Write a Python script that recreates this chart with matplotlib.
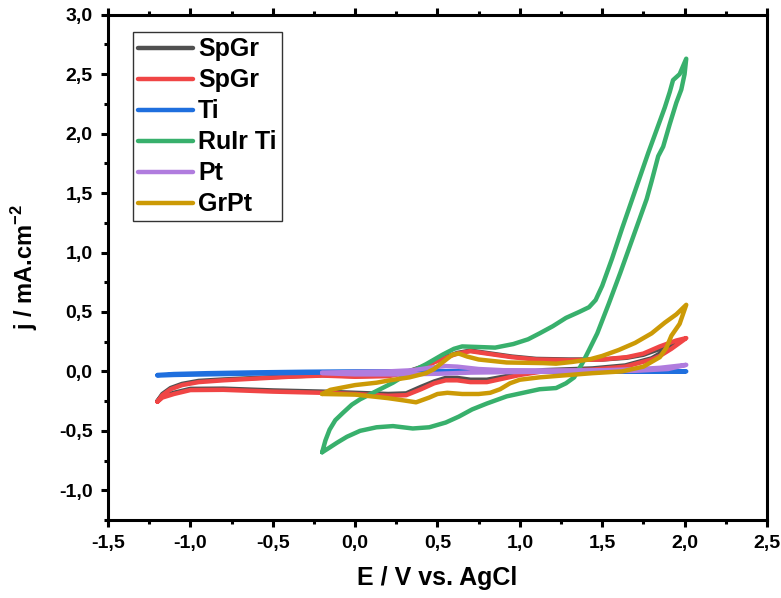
import matplotlib
matplotlib.use("Agg")
import matplotlib.pyplot as plt
from matplotlib.ticker import MultipleLocator, FuncFormatter

plt.rcParams['font.family'] = ['Liberation Sans', 'DejaVu Sans']
plt.rcParams['font.weight'] = 'bold'
plt.rcParams['mathtext.fontset'] = 'custom'
plt.rcParams['mathtext.bf'] = 'Liberation Sans:bold'
plt.rcParams['mathtext.rm'] = 'Liberation Sans:bold'

# Cyclic voltammograms: potential (V vs. AgCl) and current density (mA/cm2)
spgr_red_E = [-1.20, -1.17, -1.12, -1.05, -0.95, -0.80, -0.60, -0.40, -0.20, 0.00, 0.20, 0.30,
              0.42, 0.52, 0.62, 0.70, 0.80, 0.95, 1.10, 1.30, 1.50, 1.65, 1.75, 1.85, 1.95, 2.01,
              1.97, 1.92, 1.85, 1.80, 1.64, 1.44, 1.14, 1.00, 0.90, 0.80, 0.70, 0.62, 0.55, 0.48,
              0.40, 0.31, 0.20, 0.00, -0.20, -0.50, -0.80, -1.00, -1.10, -1.17, -1.20]
spgr_red_j = [-0.255, -0.20, -0.15, -0.115, -0.09, -0.075, -0.06, -0.045, -0.035, -0.045, -0.04, -0.015,
              0.04, 0.10, 0.15, 0.17, 0.15, 0.12, 0.10, 0.095, 0.10, 0.12, 0.15, 0.21, 0.26, 0.28,
              0.24, 0.19, 0.13, 0.10, 0.04, 0.015, 0.00, -0.03, -0.06, -0.09, -0.09, -0.075, -0.075, -0.10,
              -0.15, -0.20, -0.205, -0.19, -0.18, -0.17, -0.155, -0.157, -0.19, -0.22, -0.255]

spgr_black_E = [-1.20, -1.17, -1.12, -1.05, -0.95, -0.80, -0.60, -0.40, -0.20, 0.00, 0.20, 0.30,
                0.42, 0.52, 0.62, 0.70, 0.80, 0.95, 1.10, 1.30, 1.50, 1.65, 1.75, 1.85, 1.95,
                1.90, 1.85, 1.80, 1.64, 1.44, 1.14, 1.00, 0.90, 0.80, 0.70, 0.62, 0.55, 0.48,
                0.40, 0.31, 0.20, 0.00, -0.20, -0.50, -0.80, -1.00, -1.10, -1.17, -1.20]
spgr_black_j = [-0.25, -0.19, -0.14, -0.105, -0.08, -0.068, -0.055, -0.042, -0.032, -0.04, -0.035, -0.01,
                0.045, 0.105, 0.155, 0.175, 0.155, 0.125, 0.105, 0.10, 0.10, 0.115, 0.14, 0.19, 0.235,
                0.20, 0.15, 0.11, 0.05, 0.025, 0.01, -0.015, -0.045, -0.07, -0.07, -0.055, -0.055, -0.085,
                -0.13, -0.185, -0.19, -0.18, -0.17, -0.16, -0.145, -0.147, -0.18, -0.21, -0.25]

ti_E = [-1.20, -1.10, -0.90, -0.60, -0.30, 0.00, 0.50, 1.00, 1.50, 2.01,
        1.50, 1.00, 0.50, 0.00, -0.30, -0.60, -0.90, -1.10, -1.20]
ti_j = [-0.035, -0.03, -0.025, -0.018, -0.012, -0.008, -0.004, -0.002, 0.0, 0.0,
        0.002, 0.003, 0.002, 0.0, -0.003, -0.008, -0.015, -0.022, -0.03]

ruir_E = [-0.20, -0.18, -0.155, -0.12, -0.075, -0.02, 0.03, 0.13, 0.23, 0.33, 0.43, 0.53, 0.60,
          0.65, 0.75, 0.85, 0.96, 1.05, 1.12, 1.20, 1.28, 1.36, 1.42, 1.46, 1.50, 1.56, 1.62,
          1.67, 1.72, 1.78, 1.83, 1.88, 1.91, 1.93, 1.97, 2.01,
          2.00, 1.98, 1.95, 1.91, 1.87, 1.84, 1.80, 1.77, 1.69, 1.61, 1.54, 1.47, 1.42, 1.38,
          1.33, 1.28, 1.22, 1.12, 1.02, 0.92, 0.80, 0.71, 0.63, 0.55, 0.45, 0.35, 0.23, 0.13,
          0.03, -0.05, -0.11, -0.16, -0.20]
ruir_j = [-0.68, -0.58, -0.49, -0.41, -0.35, -0.28, -0.235, -0.165, -0.095, -0.01, 0.06, 0.14, 0.19,
          0.21, 0.205, 0.20, 0.23, 0.27, 0.32, 0.38, 0.45, 0.50, 0.54, 0.60, 0.72, 0.95, 1.20,
          1.40, 1.60, 1.84, 2.03, 2.22, 2.35, 2.45, 2.50, 2.63,
          2.50, 2.37, 2.26, 2.08, 1.89, 1.81, 1.60, 1.45, 1.14, 0.83, 0.57, 0.32, 0.18, 0.07,
          -0.05, -0.10, -0.14, -0.15, -0.18, -0.21, -0.27, -0.32, -0.38, -0.43, -0.47, -0.48, -0.46, -0.47,
          -0.50, -0.55, -0.60, -0.645, -0.68]

pt_E = [-0.20, 0.00, 0.20, 0.35, 0.45, 0.55, 0.62, 0.75, 0.90, 1.20, 1.50, 1.70, 1.85, 2.01,
        1.90, 1.70, 1.40, 1.00, 0.70, 0.50, 0.30, 0.00, -0.20]
pt_j = [-0.01, -0.005, 0.0, 0.01, 0.03, 0.045, 0.04, 0.02, 0.01, 0.008, 0.01, 0.018, 0.03, 0.055,
        0.02, 0.005, 0.0, -0.005, -0.01, -0.02, -0.025, -0.025, -0.015]

grpt_E = [-0.20, -0.15, -0.075, 0.00, 0.13, 0.21, 0.33, 0.43, 0.48, 0.53, 0.59, 0.63, 0.68, 0.75,
          0.92, 1.14, 1.22, 1.32, 1.42, 1.50, 1.60, 1.70, 1.80, 1.88, 1.95, 2.01,
          1.97, 1.92, 1.89, 1.85, 1.80, 1.75, 1.62, 1.44, 1.30, 1.12, 1.00, 0.94, 0.88, 0.82,
          0.75, 0.65, 0.56, 0.50, 0.45, 0.37, 0.30, 0.20, 0.10, 0.00, -0.20]
grpt_j = [-0.19, -0.155, -0.135, -0.115, -0.095, -0.075, -0.05, -0.015, 0.02, 0.075, 0.14, 0.15, 0.125, 0.10,
          0.075, 0.07, 0.065, 0.08, 0.10, 0.13, 0.18, 0.24, 0.32, 0.41, 0.48, 0.56,
          0.40, 0.30, 0.20, 0.12, 0.08, 0.04, 0.0, -0.015, -0.03, -0.05, -0.07, -0.10, -0.15, -0.18,
          -0.19, -0.19, -0.18, -0.19, -0.22, -0.26, -0.245, -0.225, -0.21, -0.195, -0.19]

series = [
    ("SpGr", spgr_black_E, spgr_black_j, "#505050"),
    ("SpGr", spgr_red_E, spgr_red_j, "#f04545"),
    ("Ti", ti_E, ti_j, "#1f6fde"),
    ("RuIr Ti", ruir_E, ruir_j, "#38b06c"),
    ("Pt", pt_E, pt_j, "#b07cde"),
    ("GrPt", grpt_E, grpt_j, "#cc9a06"),
]

fig = plt.figure(figsize=(7.81, 5.98), dpi=100)
ax = fig.add_axes([0.1383, 0.1304, 0.8437, 0.845])

for label, e, j, c in series:
    ax.plot(e, j, color=c, lw=3.2, label=label, solid_capstyle='round', solid_joinstyle='round')

ax.set_xlim(-1.5, 2.5)
ax.set_ylim(-1.25, 3.0)
ax.xaxis.set_major_locator(MultipleLocator(0.5))
ax.xaxis.set_minor_locator(MultipleLocator(0.25))
ax.yaxis.set_major_locator(MultipleLocator(0.5))
ax.yaxis.set_minor_locator(MultipleLocator(0.25))
comma = FuncFormatter(lambda v, p: f"{v:.1f}".replace(".", ",").replace("-0,0", "0,0"))
ax.xaxis.set_major_formatter(comma)
ax.yaxis.set_major_formatter(comma)

for s in ax.spines.values():
    s.set_linewidth(2.2)
ax.tick_params(which='both', direction='out', width=2.2, top=True, right=False,
               labelsize=14, pad=6)
ax.tick_params(which='major', length=5)
ax.tick_params(which='minor', length=3)
for lab in ax.get_xticklabels() + ax.get_yticklabels():
    lab.set_fontweight('bold')

ax.set_xlabel("E / V vs. AgCl", fontsize=18, fontweight='bold', labelpad=10)
ax.set_ylabel(r"j / mA.cm$^{\mathbf{-2}}$", fontsize=17, fontweight='bold', labelpad=14)

leg = ax.legend(loc='upper left', bbox_to_anchor=(0.038, 0.965),
                prop={'weight': 'bold', 'size': 18}, frameon=True, fancybox=False,
                handlelength=2.2, handletextpad=0.2, labelspacing=0.28, borderpad=0.2,
                borderaxespad=0.0)
leg.get_frame().set_edgecolor('black')
leg.get_frame().set_linewidth(1.0)
for h in leg.get_lines():
    h.set_linewidth(3.2)

fig.savefig("out.png", dpi=100)
